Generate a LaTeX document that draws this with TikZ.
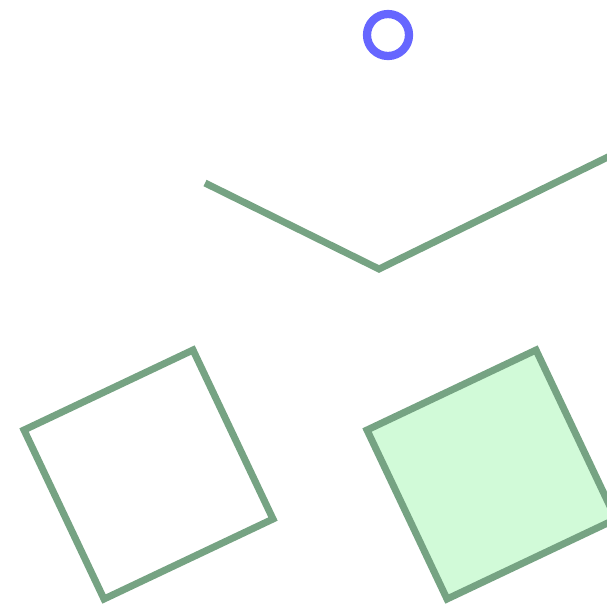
\documentclass[tikz,border=0pt]{standalone}
\usepackage{tikz}
\definecolor{shapeGreen}{RGB}{118, 163, 131}
\definecolor{shapeFill}{RGB}{209, 250, 216}
\definecolor{markBlue}{RGB}{102, 102, 255}
\tikzset{
  sketchLine/.style={
    draw=shapeGreen,
    line width=0.14cm,
    line join=miter
  },
  tiltSquare/.style={
    sketchLine
  },
  markRing/.style={
    draw=markBlue,
    line width=0.165cm
  }
}
\begin{document}
\begin{tikzpicture}[x=0.02cm, y=-0.02cm]
  \useasboundingbox (0,0) rectangle (607,606);
  \clip (0,0) rectangle (607,606);
  % small ring at the top
  \draw[markRing] (388,35) circle (21);
  % bent line
  \draw[sketchLine] (205,183) -- (379,269) -- (612,155);
  % left square, empty
  \draw[tiltSquare] (24,430) -- (193,350) -- (273,519) -- (104,599) -- cycle;
  % right square, filled
  \draw[tiltSquare, fill=shapeFill] (367,430) -- (536,350) -- (616,519) -- (447,599) -- cycle;
\end{tikzpicture}
\end{document}
